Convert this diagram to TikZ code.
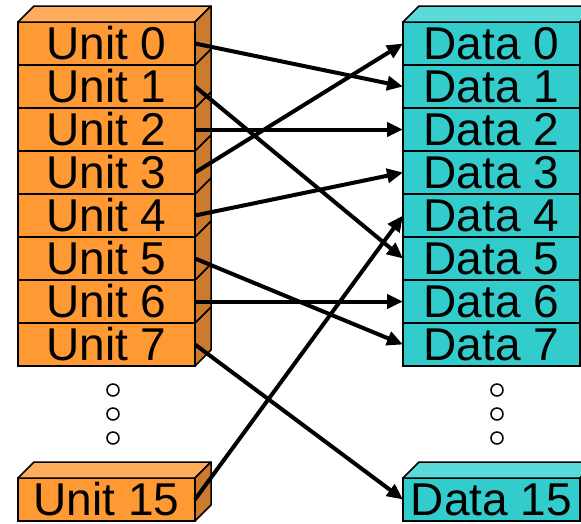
\documentclass[tikz,border=0pt]{standalone}
\usepackage{fontspec}
\setmainfont{Liberation Sans}
\usetikzlibrary{arrows.meta, calc}
\definecolor{unitfront}{HTML}{FF9933}
\definecolor{unittop}{HTML}{FFAD5C}
\definecolor{unitside}{HTML}{CC7A2E}
\definecolor{datafront}{HTML}{33CCCC}
\definecolor{datatop}{HTML}{5CD9D9}
\definecolor{dataside}{HTML}{29A3A3}
\tikzset{
  cell/.style={
    rectangle, draw=black, fill=#1, line width=1.5pt,
    minimum width=177pt, minimum height=43pt,
    inner sep=0pt, outer sep=0pt,
    font=\fontsize{46}{48}\selectfont
  },
  face/.style={draw=black, line width=1.5pt, line join=round},
  dot/.style={circle, draw=black, fill=white, line width=1.5pt,
    minimum size=12pt, inner sep=0pt},
  conn/.style={-{Triangle[length=16pt,width=14pt]}, line width=4pt}
}
% top and side face of a cell
\newcommand{\cellfaces}[3]{%
  \draw[face, fill=#2] (#1.north west) -- ++(16,-16)
    -- ($(#1.north east)+(16,-16)$) -- (#1.north east) -- cycle;
  \draw[face, fill=#3] (#1.north east) -- ++(16,-16)
    -- ($(#1.south east)+(16,-16)$) -- (#1.south east) -- cycle;}
\begin{document}
\begin{tikzpicture}[x=1pt, y=-1pt]
  \clip (0,0) rectangle (581,523);
  % Units
  \foreach \i in {7,...,0}{%
    \node[cell=unitfront] (u\i) at (106.5,43.5+43*\i) {Unit \i};
    \cellfaces{u\i}{unittop}{unitside}}
  \node[cell=unitfront] (u15) at (106.5,499.5) {Unit 15};
  \cellfaces{u15}{unittop}{unitside}
  % Data
  \foreach \i in {7,...,0}{%
    \node[cell=datafront] (d\i) at (491.5,43.5+43*\i) {Data \i};
    \cellfaces{d\i}{datatop}{dataside}}
  \node[cell=datafront] (d15) at (491.5,499.5) {Data 15};
  \cellfaces{d15}{datatop}{dataside}
  % dots
  \foreach \y [count=\k] in {390,414,438}{%
    \node[dot] (ldot\k) at (113,\y) {};
    \node[dot] (rdot\k) at (497,\y) {};}
  % mapping
  \draw[conn] (u0.east) -- (d1.west);
  \draw[conn] (u1.east) -- (d5.west);
  \draw[conn] (u2.east) -- (d2.west);
  \draw[conn] (u3.east) -- (d0.west);
  \draw[conn] (u4.east) -- (d3.west);
  \draw[conn] (u5.east) -- (d7.west);
  \draw[conn] (u6.east) -- (d6.west);
  \draw[conn] (u7.east) -- (d15.west);
  \draw[conn] (u15.east) -- (d4.west);
\end{tikzpicture}
\end{document}
